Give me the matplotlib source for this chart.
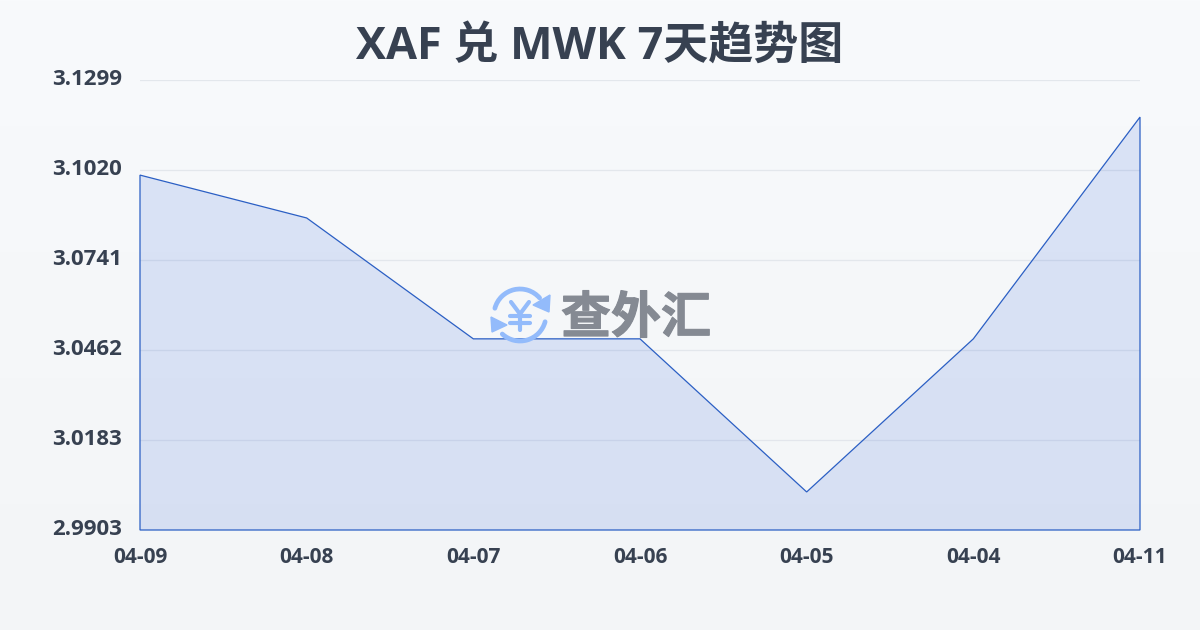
import numpy as np
import matplotlib
matplotlib.use('Agg')
import matplotlib.pyplot as plt
import matplotlib.patheffects as pe
from matplotlib.patches import Arc, Polygon
from matplotlib.transforms import ScaledTranslation

dates = ['04-09', '04-08', '04-07', '04-06', '04-05', '04-04', '04-11']
rates = [3.1004, 3.0871, 3.0496, 3.0496, 3.0021, 3.0496, 3.1184]
ytick_vals = [2.9903, 3.0183, 3.0462, 3.0741, 3.1020, 3.1299]
ytick_labels = ['2.9903', '3.0183', '3.0462', '3.0741', '3.1020', '3.1299']
title = 'XAF 兑 MWK 7天趋势图'
logo_text = '查外汇'

W, H = 1200, 630
cjk = ['Open Sans', 'Noto Sans CJK SC']
text_col = '#374151'
line_col = '#2b5fc4'

fig = plt.figure(figsize=(W / 100, H / 100), dpi=100)

# background gradient
bg = fig.add_axes([0, 0, 1, 1], zorder=0)
top = np.array([248, 250, 252]) / 255
bottom = np.array([243, 245, 247]) / 255
grad = np.linspace(0, 1, H)[:, None, None] * (bottom - top) + top
bg.imshow(grad, aspect='auto', extent=[0, W, H, 0])
bg.axis('off')

# plot area
ax = fig.add_axes([140 / W, 1 - 530 / H, 1000 / W, 450 / H], zorder=1)
ax.patch.set_alpha(0)
x = np.arange(len(dates))
ax.set_xlim(0, len(dates) - 1)
ax.set_ylim(ytick_vals[0], ytick_vals[-1])
for v in ytick_vals[1:]:
    ax.axhline(v, color='#dfe3e9', lw=0.9, alpha=0.8, zorder=1)
pts = list(zip(x, rates)) + [(x[-1], ytick_vals[0]), (x[0], ytick_vals[0])]
ax.add_patch(Polygon(pts, closed=True, facecolor='#2a5fd8', alpha=0.14, edgecolor='none', zorder=2))
ax.add_patch(Polygon(pts, closed=True, facecolor='none', edgecolor=line_col, lw=0.9, zorder=3, clip_on=False))
for s in ax.spines.values():
    s.set_visible(False)
ax.set_xticks(x)
ax.set_xticklabels(dates, fontsize=15, fontweight='bold', color=text_col, family='Open Sans')
ax.set_yticks(ytick_vals)
ax.set_yticklabels(ytick_labels, fontsize=16, fontweight='bold', color=text_col, family='Open Sans')
ax.tick_params(axis='x', length=0, pad=12)
ax.tick_params(axis='y', length=0, pad=13)
shift_up = ScaledTranslation(0, 3 / 100, fig.dpi_scale_trans)
for lab in ax.get_yticklabels():
    lab.set_transform(lab.get_transform() + shift_up)

# overlay in pixel coordinates for title and watermark
ov = fig.add_axes([0, 0, 1, 1], zorder=2)
ov.set_xlim(0, W)
ov.set_ylim(H, 0)
ov.axis('off')
ov.text(600, 47, title, ha='center', va='center', fontsize=32.4, fontweight='bold', color=text_col, family=cjk)

logo_col = '#93bbfb'
cx, cy, r = 520, 315, 26
ov.add_patch(Arc((cx, cy), 2 * r, 2 * r, theta1=195, theta2=319, color=logo_col, lw=3.4, capstyle='round'))
ov.add_patch(Arc((cx, cy), 2 * r, 2 * r, theta1=15, theta2=133, color=logo_col, lw=3.4, capstyle='round'))
ov.add_patch(Polygon([(550, 295), (549, 312), (533, 305)], closed=True, color=logo_col, zorder=3))
ov.add_patch(Polygon([(491, 317), (507, 325), (492, 332)], closed=True, color=logo_col, zorder=3))
# yen sign
yen_x = [[511, 520, 529], [510, 530], [510, 530], [520, 520]]
yen_y = [[302, 314, 302], [316, 316], [323, 323], [314, 330]]
for xs, ys in zip(yen_x, yen_y):
    ov.plot(xs, ys, color=logo_col, lw=3, solid_capstyle='round', solid_joinstyle='round')
ov.text(636, 320, logo_text, ha='center', va='center', fontsize=36, fontweight='bold', color='#858a93',
        family=cjk, path_effects=[pe.withStroke(linewidth=0.8, foreground='#858a93')])

fig.savefig('out.png', dpi=100)
